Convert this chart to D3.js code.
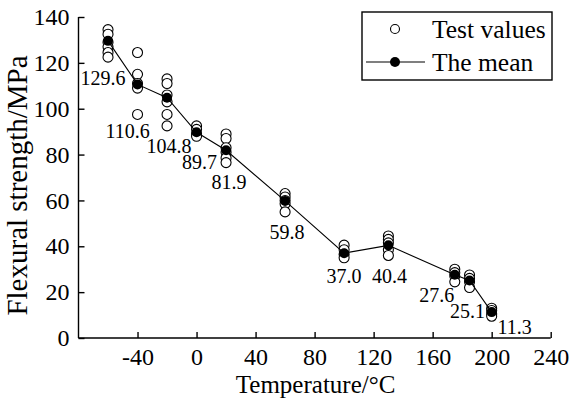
<!DOCTYPE html>
<html>
<head>
<meta charset="utf-8">
<script src="https://cdn.jsdelivr.net/npm/d3@7"></script>
<style>
  html, body { margin: 0; padding: 0; background: #fff; }
  svg { display: block; }
  text { font-family: "Liberation Serif", "Times New Roman", serif; fill: #000; }
</style>
</head>
<body>
<svg id="chart" width="571" height="401"></svg>
<script>
// ---- data ----
const temperatures = [-60, -40, -20, 0, 20, 60, 100, 130, 175, 185, 200];
const meanValues = [129.6, 110.6, 104.8, 89.7, 81.9, 59.8, 37.0, 40.4, 27.6, 25.1, 11.3];
const meanLabels = ["129.6", "110.6", "104.8", "89.7", "81.9", "59.8", "37.0", "40.4", "27.6", "25.1", "11.3"];
const testValues = [
  [134.5, 132.5, 129, 127, 124.5, 122.5],
  [124.5, 115, 111, 109, 97.5],
  [113, 111, 106, 103, 97.5, 92.5],
  [92.5, 91, 89, 88],
  [89, 87, 83, 81, 78.5, 76.5],
  [63, 61.5, 60, 58.5, 55],
  [40.5, 38.5, 36.5, 35],
  [44.5, 43, 41.5, 38.5, 36],
  [30, 28.5, 27, 24.5],
  [27.5, 26, 24.5, 22],
  [13, 12, 10.5, 9.5]
];
const xTicks = [-40, 0, 40, 80, 120, 160, 200, 240];
const yTicks = [0, 20, 40, 60, 80, 100, 120, 140];
const xTitle = "Temperature/°C";
const yTitle = "Flexural strength/MPa";
const legendLabels = ["Test values", "The mean"];

// label placement offsets (layout only)
const labelOffsets = [[-5, 37], [-10, 47], [2, 48], [3, 30], [3, 32], [2, 31], [0, 23], [1, 31], [-18, 20], [-2, 31], [23, 15]];

// ---- layout ----
const svg = d3.select("#chart");
const L = 78.5, R = 550.7, T = 17, B = 338;
const x = d3.scaleLinear().domain([-80, 240]).range([L, R]);
const y = d3.scaleLinear().domain([0, 140]).range([B, T]);

// axes
const xAxis = d3.axisBottom(x).tickValues(xTicks).tickSize(-6).tickPadding(10).tickFormat(d => String(d));
const yAxis = d3.axisLeft(y).tickValues(yTicks).tickSize(-6).tickPadding(9).tickFormat(d => String(d));

const gx = svg.append("g").attr("transform", `translate(0,${B})`).call(xAxis);
const gy = svg.append("g").attr("transform", `translate(${L},0)`).call(yAxis);
[gx, gy].forEach(g => {
  g.select(".domain").attr("stroke", "#000").attr("stroke-width", 1.4);
  g.selectAll(".tick line").attr("stroke", "#000").attr("stroke-width", 1.4);
  g.selectAll(".tick text").attr("font-family", "Liberation Serif, Times New Roman, serif").attr("font-size", 24).attr("fill", "#000");
});
gx.select(".domain").attr("d", `M${L},0H${R}`);
gy.select(".domain").attr("d", `M0,${B}V${T}`);
gx.selectAll(".tick text").attr("dy", "0.71em");

// axis titles
svg.append("text").attr("x", (L + R) / 2 + 1).attr("y", 393)
  .attr("text-anchor", "middle").attr("font-size", 25).text(xTitle);
svg.append("text").attr("transform", `translate(27,${(T + B) / 2 + 8}) rotate(-90)`)
  .attr("text-anchor", "middle").attr("font-size", 29).text(yTitle);

// test values
const pts = [];
temperatures.forEach((t, i) => testValues[i].forEach(v => pts.push({ t, v })));
svg.append("g").selectAll("circle").data(pts).join("circle")
  .attr("cx", d => x(d.t)).attr("cy", d => y(d.v)).attr("r", 5)
  .attr("fill", "#fff").attr("stroke", "#000").attr("stroke-width", 1.1);

// mean line
const means = temperatures.map((t, i) => ({ t, v: meanValues[i], label: meanLabels[i], off: labelOffsets[i] }));
svg.append("path").datum(means)
  .attr("d", d3.line().x(d => x(d.t)).y(d => y(d.v)))
  .attr("fill", "none").attr("stroke", "#000").attr("stroke-width", 1.1);
svg.append("g").selectAll("circle").data(means).join("circle")
  .attr("cx", d => x(d.t)).attr("cy", d => y(d.v)).attr("r", 5).attr("fill", "#000");

// mean labels
svg.append("g").selectAll("text").data(means).join("text")
  .attr("x", d => x(d.t) + d.off[0]).attr("y", d => y(d.v) + d.off[1])
  .attr("text-anchor", "middle").attr("dominant-baseline", "central")
  .attr("font-size", 20).text(d => d.label);

// legend
const lg = svg.append("g");
lg.append("rect").attr("x", 362).attr("y", 12).attr("width", 190).attr("height", 68)
  .attr("fill", "#fff").attr("stroke", "#000").attr("stroke-width", 1.4);
lg.append("circle").attr("cx", 395).attr("cy", 29).attr("r", 4.5)
  .attr("fill", "#fff").attr("stroke", "#000").attr("stroke-width", 1.1);
lg.append("line").attr("x1", 366).attr("x2", 425).attr("y1", 62).attr("y2", 62)
  .attr("stroke", "#000").attr("stroke-width", 1.1);
lg.append("circle").attr("cx", 395).attr("cy", 62).attr("r", 5).attr("fill", "#000");
lg.selectAll("text.lab").data(legendLabels).join("text").attr("class", "lab")
  .attr("x", 432).attr("y", (d, i) => i === 0 ? 29 : 62)
  .attr("dominant-baseline", "central").attr("font-size", 25.5).text(d => d);
</script>
</body>
</html>
